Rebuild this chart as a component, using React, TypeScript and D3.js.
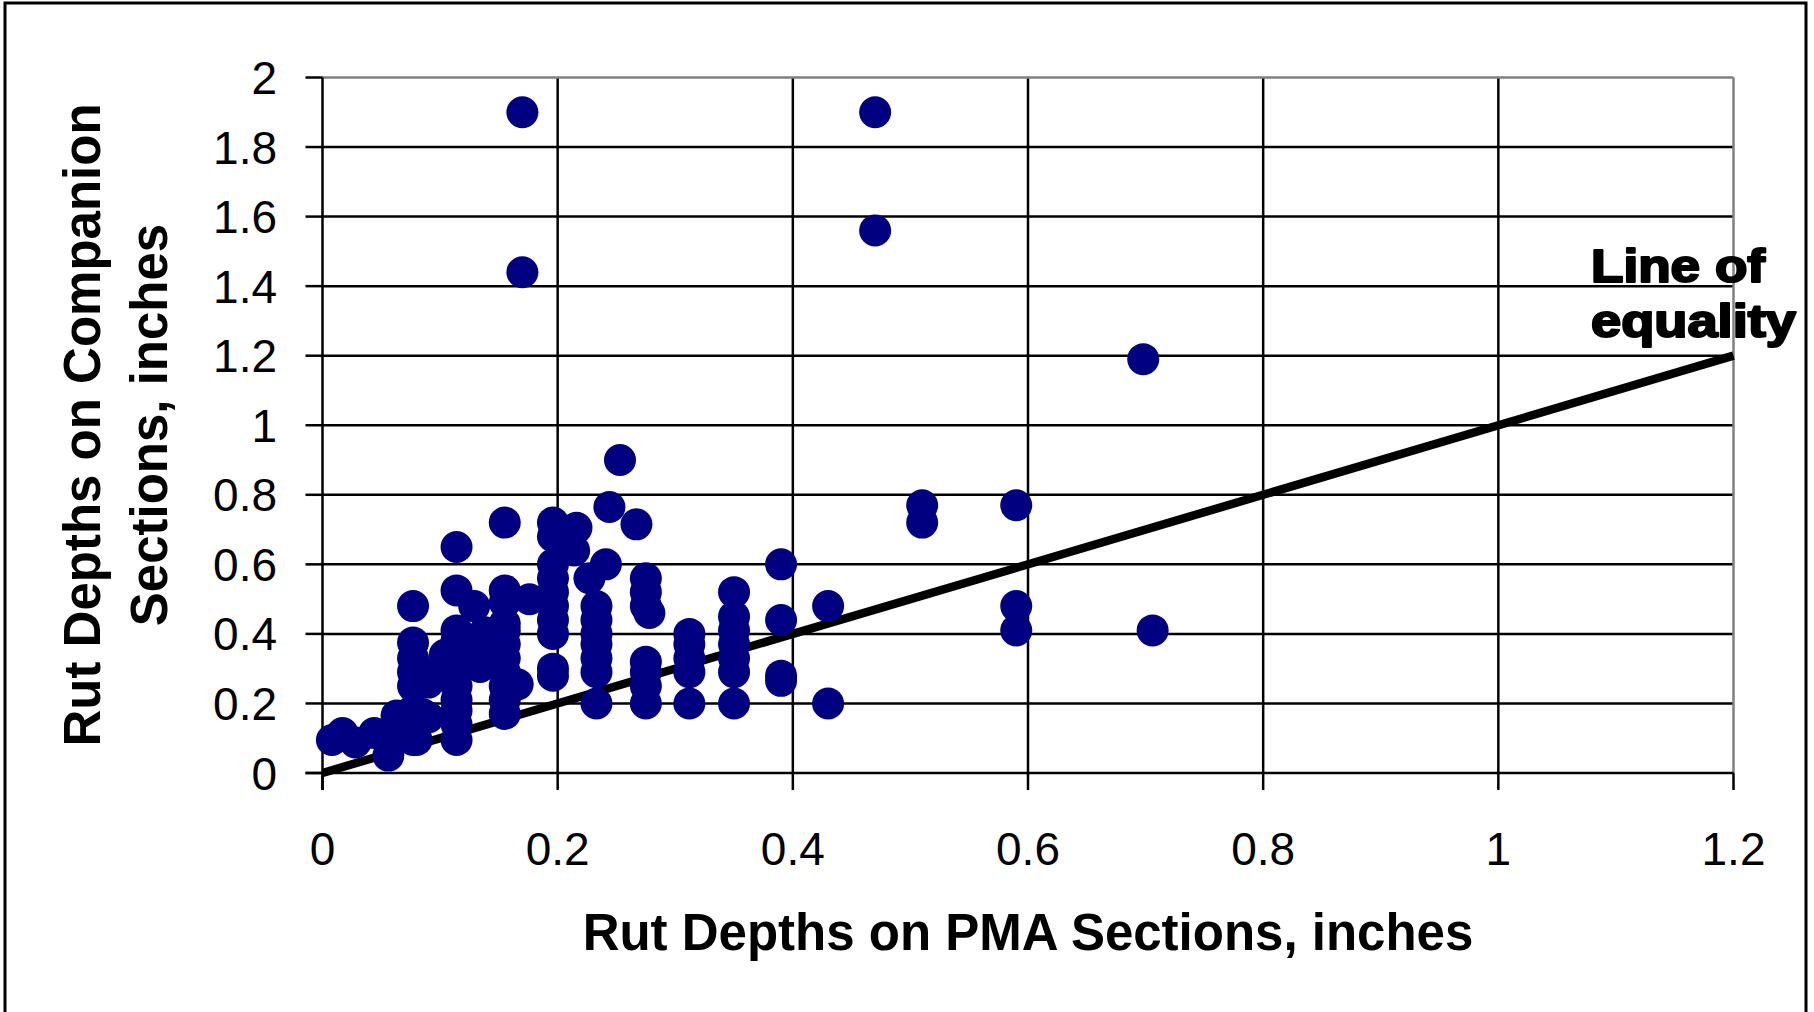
import React from "react";
import * as d3 from "d3";

// rut depths, inches
const pmaDepths = [
  0.008, 0.017, 0.028, 0.044, 0.056, 0.057, 0.063, 0.063,
  0.077, 0.077, 0.077, 0.077, 0.077, 0.077, 0.077, 0.077, 0.085, 0.09, 0.08, 0.09,
  0.098, 0.104,
  0.114, 0.114, 0.114, 0.114, 0.114, 0.114, 0.114, 0.114, 0.114, 0.114, 0.114,
  0.129, 0.131, 0.134, 0.134, 0.138, 0.145,
  0.155, 0.155, 0.155, 0.155, 0.155, 0.155, 0.155, 0.155, 0.155, 0.155, 0.155,
  0.166, 0.176,
  0.196, 0.196, 0.196, 0.196, 0.196, 0.196, 0.196, 0.196, 0.196, 0.196,
  0.216, 0.214, 0.227,
  0.233, 0.233, 0.233, 0.233, 0.233, 0.233, 0.233,
  0.241, 0.244, 0.253, 0.267,
  0.275, 0.275, 0.275, 0.278, 0.275, 0.275, 0.275, 0.275,
  0.312, 0.312, 0.312, 0.312, 0.312,
  0.35, 0.35, 0.35, 0.35, 0.35, 0.35, 0.35,
  0.39, 0.39, 0.39, 0.39,
  0.43, 0.43,
  0.17, 0.17, 0.47, 0.47, 0.698,
  0.51, 0.51, 0.59, 0.59, 0.59, 0.706,
];

const companionDepths = [
  0.095, 0.115, 0.088, 0.115, 0.05, 0.085, 0.165, 0.11,
  0.48, 0.375, 0.33, 0.29, 0.25, 0.18, 0.14, 0.095, 0.17, 0.16, 0.095, 0.26,
  0.29, 0.34,
  0.65, 0.525, 0.41, 0.38, 0.33, 0.29, 0.25, 0.21, 0.18, 0.14, 0.095,
  0.48, 0.37, 0.34, 0.305, 0.405, 0.36,
  0.72, 0.525, 0.49, 0.43, 0.41, 0.37, 0.33, 0.29, 0.25, 0.21, 0.17,
  0.255, 0.5,
  0.72, 0.68, 0.6, 0.56, 0.52, 0.48, 0.44, 0.4, 0.3, 0.28,
  0.705, 0.64, 0.56,
  0.48, 0.44, 0.4, 0.37, 0.33, 0.29, 0.2,
  0.6, 0.765, 0.9, 0.715,
  0.56, 0.52, 0.48, 0.46, 0.32, 0.29, 0.25, 0.2,
  0.4, 0.37, 0.33, 0.29, 0.2,
  0.52, 0.45, 0.41, 0.37, 0.33, 0.29, 0.2,
  0.6, 0.44, 0.28, 0.265,
  0.48, 0.2,
  1.9, 1.44, 1.9, 1.56, 1.19,
  0.77, 0.72, 0.77, 0.48, 0.41, 0.41,
];

const xTicks = [0, 0.2, 0.4, 0.6, 0.8, 1, 1.2];
const yTicks = [0, 0.2, 0.4, 0.6, 0.8, 1, 1.2, 1.4, 1.6, 1.8, 2];
const equalityLine = [0, 1.2];

const W = 1814;
const H = 1012;
const font = "'Liberation Sans', Arial, Helvetica, sans-serif";
const navy = "#000080";

export default function App() {
  const x = d3.scaleLinear().domain([0, 1.2]).range([322.5, 1733.5]);
  const y = d3.scaleLinear().domain([0, 2]).range([773, 77.5]);
  const [x0, x1] = x.range();
  const [y0, y1] = y.range();

  const points = pmaDepths.map((p, i) => [p, companionDepths[i]]);
  const eq = d3
    .line<number>()
    .x((d) => x(d))
    .y((d) => y(d))(equalityLine);

  return (
    <svg
      width={W}
      height={H}
      style={{ position: "absolute", left: 0, top: 0, background: "#fff" }}
    >
      <rect x={0} y={0} width={W} height={H} fill="#fff" />
      {/* outer frame, its bottom runs off the picture */}
      <rect x={5} y={3} width={1801} height={1030} fill="none" stroke="#000" strokeWidth={3} />

      {/* grid */}
      {yTicks.slice(1, -1).map((t) => (
        <line key={"gy" + t} x1={x0} x2={x1} y1={y(t)} y2={y(t)} stroke="#000" strokeWidth={2.5} />
      ))}
      {xTicks.slice(1, -1).map((t) => (
        <line key={"gx" + t} x1={x(t)} x2={x(t)} y1={y0} y2={y1} stroke="#000" strokeWidth={2.5} />
      ))}
      {/* plot border top/right */}
      <line x1={x0} x2={x1} y1={y1} y2={y1} stroke="#808080" strokeWidth={2.5} />
      <line x1={x1} x2={x1} y1={y1} y2={y0} stroke="#808080" strokeWidth={2.5} />

      {/* axes */}
      <line x1={x0} x2={x0} y1={y1} y2={y0 + 17} stroke="#000" strokeWidth={2.5} />
      <line x1={x0 - 17} x2={x1} y1={y0} y2={y0} stroke="#000" strokeWidth={2.5} />
      {yTicks.map((t) => (
        <g key={"ty" + t}>
          <line x1={x0 - 17} x2={x0} y1={y(t)} y2={y(t)} stroke="#000" strokeWidth={2.5} />
          <text
            x={277}
            y={y(t) + 16.5}
            textAnchor="end"
            fontFamily={font}
            fontSize={46}
            fill="#000"
          >
            {String(t)}
          </text>
        </g>
      ))}
      {xTicks.map((t) => (
        <g key={"tx" + t}>
          <line x1={x(t)} x2={x(t)} y1={y0} y2={y0 + 17} stroke="#000" strokeWidth={2.5} />
          <text
            x={x(t)}
            y={865}
            textAnchor="middle"
            fontFamily={font}
            fontSize={46}
            fill="#000"
          >
            {String(t)}
          </text>
        </g>
      ))}

      {/* line of equality */}
      <path d={eq ?? ""} stroke="#000" strokeWidth={8.5} fill="none" />

      {/* points */}
      {points.map(([p, c], i) => (
        <circle key={i} cx={x(p)} cy={y(c)} r={16} fill={navy} />
      ))}

      {/* annotation, heavier than the titles */}
      <text
        fontFamily={font}
        fontWeight="bold"
        fontSize={47}
        fill="#000"
        stroke="#000"
        strokeWidth={2.2}
        strokeLinejoin="round"
      >
        <tspan x={1591} y={282} textLength={174} lengthAdjust="spacingAndGlyphs">
          Line of
        </tspan>
        <tspan x={1591} y={337} textLength={205} lengthAdjust="spacingAndGlyphs">
          equality
        </tspan>
      </text>

      {/* axis titles */}
      <text
        x={1028}
        y={950}
        textAnchor="middle"
        fontFamily={font}
        fontWeight="bold"
        fontSize={51}
        fill="#000"
      >
        Rut Depths on PMA Sections, inches
      </text>
      <text
        transform="translate(100,425) rotate(-90)"
        textAnchor="middle"
        fontFamily={font}
        fontWeight="bold"
        fontSize={51}
        fill="#000"
      >
        <tspan x={0} y={0}>Rut Depths on Companion</tspan>
        <tspan x={0} y={67}>Sections, inches</tspan>
      </text>
    </svg>
  );
}
